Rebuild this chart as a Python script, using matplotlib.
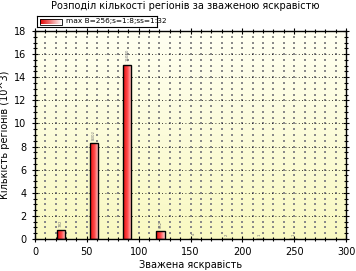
import numpy as np
import matplotlib
matplotlib.use("Agg")
import matplotlib.pyplot as plt
from matplotlib.colors import LinearSegmentedColormap
from matplotlib.patches import Rectangle

# data (thousands of regions per brightness bin)
centers = [25, 57, 89, 121, 153, 185, 217, 249]
counts = [0.78, 8.30, 15.08, 0.65, 0.004, 0.002, 0.001, 0.001]
labels = ["782", "8302", "15080", "652", "4", "2", "1", "1"]

title = "Розподіл кількості регіонів за зваженою яскравістю"
legend_text = "max B=256;s=1:8;ss=1:32"

plt.rcParams['font.family'] = ['DejaVu Sans']

fig = plt.figure(figsize=(3.56, 2.71), dpi=100)
ax = fig.add_axes([35/356, 1-239/271, 311/356, 208/271])

# yellow gradient background
bg = LinearSegmentedColormap.from_list("bg", ["#f9f9c2", "#fffff2"])
grad = np.linspace(0, 1, 256).reshape(-1, 1)
ax.imshow(grad, cmap=bg, origin="lower", aspect="auto",
          extent=[0, 300, 0, 18], zorder=0)

# grid: grey dots at minor positions, black dotted at major y
mx, my = np.meshgrid(np.arange(10, 300, 10), np.arange(0.5, 18, 0.5))
ax.scatter(mx.ravel(), my.ravel(), s=1.2, color="#8a8a8a", marker="s",
           linewidths=0, zorder=1)
for yv in range(2, 18, 2):
    ax.axhline(yv, color="black", lw=0.6, ls=(0, (1, 3)), zorder=1)

# bars with red gradient
barcm = LinearSegmentedColormap.from_list("bar", ["#e81010", "#ff4848", "#ffd8d8"])
hgrad = np.linspace(0, 1, 64).reshape(1, -1)
bars = ax.bar(centers, counts, width=8, color="none", edgecolor="black",
              linewidth=1.0, zorder=3)
for b, h in zip(bars, counts):
    if h < 0.05:
        continue
    x0 = b.get_x()
    im = ax.imshow(hgrad, cmap=barcm, aspect="auto",
                   extent=[x0, x0 + b.get_width(), 0, h], zorder=2)
    im.set_clip_path(b)

for c, h, t in zip(centers, counts, labels):
    ax.text(c, h + 0.3, t, rotation=90, fontsize=2.8, color="#707070",
            ha="center", va="bottom", zorder=4)

ax.set_xlim(0, 300)
ax.set_ylim(0, 18)
ax.set_xticks(range(0, 301, 50))
ax.set_xticks(range(0, 301, 10), minor=True)
ax.set_yticks(range(0, 19, 2))
ax.set_yticks(np.arange(0, 18.1, 0.5), minor=True)
ax.tick_params(which="both", direction="inout", top=True, right=True,
               labelsize=7, width=0.8, color="black")
ax.tick_params(which="major", length=5)
ax.tick_params(which="minor", length=3)
for s in ax.spines.values():
    s.set_linewidth(1.0)

ax.set_xlabel("Зважена яскравість", fontsize=7, labelpad=2)
ax.set_ylabel("Кількість регіонів (10^3)", fontsize=7, labelpad=3)
fig.text(0.52, 0.995, title, ha="center", va="top", fontsize=7)

# legend box above plot
leg_ax = fig.add_axes([37/356, 1-27/271, 120/356, 11/271])
leg_ax.set_xlim(0, 120)
leg_ax.set_ylim(0, 11)
leg_ax.set_xticks([])
leg_ax.set_yticks([])
for s in leg_ax.spines.values():
    s.set_linewidth(0.8)
legcm = LinearSegmentedColormap.from_list("leg", ["#e00000", "#ffffff"])
patch = Rectangle((3, 2.5), 22, 6, facecolor="none", edgecolor="black", lw=0.6)
leg_ax.add_patch(patch)
li = leg_ax.imshow(hgrad, cmap=legcm, aspect="auto", extent=[3, 25, 2.5, 8.5])
li.set_clip_path(patch)
leg_ax.text(29, 5.5, legend_text, fontsize=5.3, va="center", ha="left")

fig.savefig("out.png", dpi=100)
